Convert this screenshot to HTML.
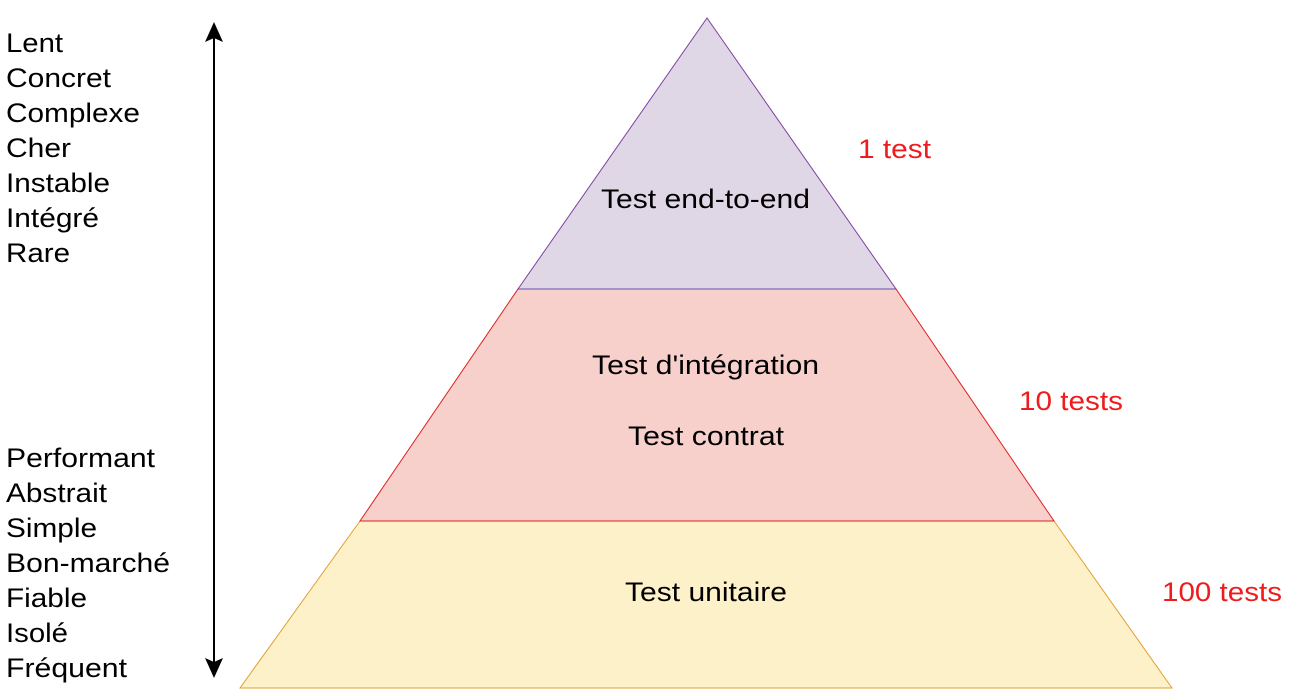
<!DOCTYPE html>
<html><head><meta charset="utf-8"><style>
body{margin:0;background:#fff;width:1300px;height:700px;overflow:hidden}
svg{display:block}
text{font-family:"Liberation Sans",sans-serif}
</style></head><body>
<svg width="1300" height="700" viewBox="0 0 1300 700">
<polygon points="240,688 1172,688 1054,521 360,521" fill="#fdf1c9" stroke="#e0a030" stroke-width="1"/>
<polygon points="360,521 1054,521 896,289 518,289" fill="#f7cfcb" stroke="#e02020" stroke-width="1"/>
<polygon points="518,289 896,289 707,18" fill="#dfd7e6" stroke="#8040a0" stroke-width="1"/>
<line x1="518" y1="289" x2="896" y2="289" stroke="#6050b0" stroke-width="1"/>
<line x1="214" y1="36" x2="214" y2="664" stroke="#000" stroke-width="2"/>
<polygon points="214,22 205,42 214,38 223,42" fill="#000"/>
<polygon points="214,678 205,658 214,662 223,658" fill="#000"/>
<g font-size="27" fill="#000">
<text x="601" y="208" textLength="209" lengthAdjust="spacingAndGlyphs">Test end-to-end</text>
<text x="592" y="374" textLength="227" lengthAdjust="spacingAndGlyphs">Test d'intégration</text>
<text x="628" y="445" textLength="156" lengthAdjust="spacingAndGlyphs">Test contrat</text>
<text x="625" y="601" textLength="162" lengthAdjust="spacingAndGlyphs">Test unitaire</text>
</g>
<g font-size="27" fill="#ee1c1c">
<text x="858" y="158" textLength="73" lengthAdjust="spacingAndGlyphs">1 test</text>
<text x="1019" y="410" textLength="104" lengthAdjust="spacingAndGlyphs">10 tests</text>
<text x="1162" y="601" textLength="120" lengthAdjust="spacingAndGlyphs">100 tests</text>
</g>
<g font-size="27" fill="#000">
<text x="6" y="52" textLength="57" lengthAdjust="spacingAndGlyphs">Lent</text>
<text x="6" y="87" textLength="105" lengthAdjust="spacingAndGlyphs">Concret</text>
<text x="6" y="122" textLength="134" lengthAdjust="spacingAndGlyphs">Complexe</text>
<text x="6" y="157" textLength="65" lengthAdjust="spacingAndGlyphs">Cher</text>
<text x="6" y="192" textLength="104" lengthAdjust="spacingAndGlyphs">Instable</text>
<text x="6" y="227" textLength="93" lengthAdjust="spacingAndGlyphs">Intégré</text>
<text x="6" y="262" textLength="64" lengthAdjust="spacingAndGlyphs">Rare</text>
<text x="6" y="467" textLength="149" lengthAdjust="spacingAndGlyphs">Performant</text>
<text x="6" y="502" textLength="101" lengthAdjust="spacingAndGlyphs">Abstrait</text>
<text x="6" y="537" textLength="91" lengthAdjust="spacingAndGlyphs">Simple</text>
<text x="6" y="572" textLength="164" lengthAdjust="spacingAndGlyphs">Bon-marché</text>
<text x="6" y="607" textLength="81" lengthAdjust="spacingAndGlyphs">Fiable</text>
<text x="6" y="642" textLength="62" lengthAdjust="spacingAndGlyphs">Isolé</text>
<text x="6" y="677" textLength="121" lengthAdjust="spacingAndGlyphs">Fréquent</text>
</g>
</svg>
</body></html>
